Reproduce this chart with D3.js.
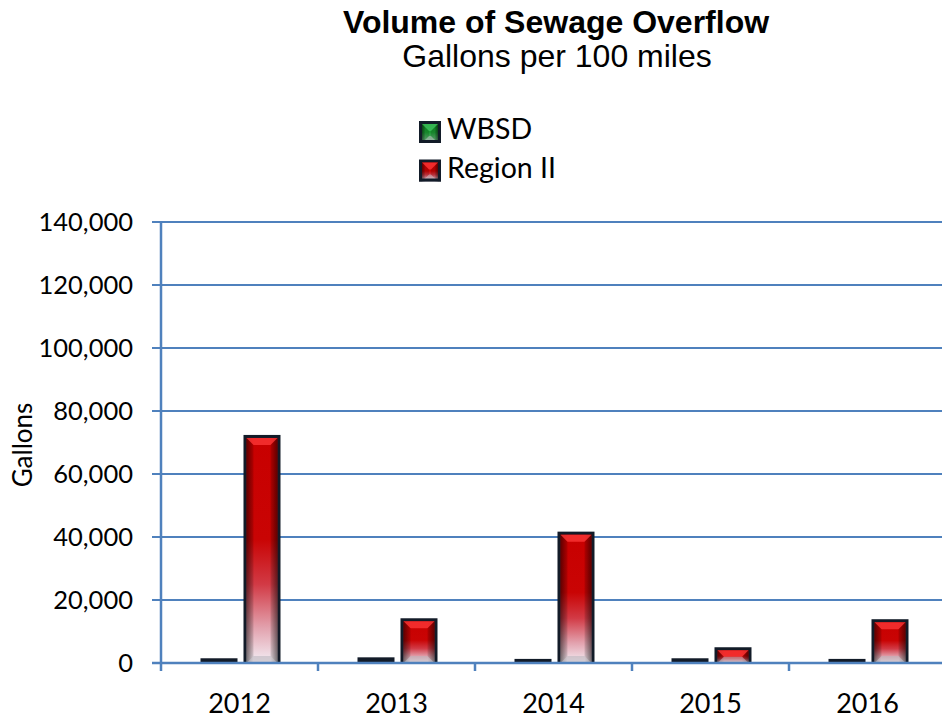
<!DOCTYPE html>
<html>
<head>
<meta charset="utf-8">
<script src="https://cdn.jsdelivr.net/npm/d3@7"></script>
<style>
  html, body { margin: 0; padding: 0; background: #fff; }
  svg { display: block; }
</style>
</head>
<body>
<svg id="chart" width="942" height="719"></svg>
<script>
// ---- Data ----
const categories = ["2012", "2013", "2014", "2015", "2016"];
const seriesNames = ["WBSD", "Region II"];
const wbsdValues = [1500, 1800, 1300, 1500, 1300];
const regionIIValues = [72400, 14200, 41700, 5000, 13900];
const yTickValues = [0, 20000, 40000, 60000, 80000, 100000, 120000, 140000];
const titleText = "Volume of Sewage Overflow";
const subtitleText = "Gallons per 100 miles";
const yAxisLabel = "Gallons";

const seriesValues = { "WBSD": wbsdValues, "Region II": regionIIValues };

// ---- Layout ----
const W = 942, H = 719;
const plotLeft = 161, plotTop = 222, plotBottom = 663, plotRight = 946;
const labelFont = "Lato, 'Open Sans', 'DejaVu Sans', sans-serif";
const gridColor = "#4f81bd";
const borderColor = "#121b28";

const svg = d3.select("#chart");
const defs = svg.append("defs");

function vGrad(id, stops) {
  const g = defs.append("linearGradient").attr("id", id)
    .attr("x1", 0).attr("y1", 0).attr("x2", 0).attr("y2", 1);
  stops.forEach(s => g.append("stop").attr("offset", s[0]).attr("stop-color", s[1]));
}
vGrad("redFill", [["0%", "#c80000"], ["45%", "#c90404"], ["65%", "#d23a45"], ["84%", "#e2a0ac"], ["100%", "#f3eef5"]]);
vGrad("greenFill", [["0%", "#0e8a22"], ["45%", "#1d9a35"], ["100%", "#78b88c"]]);
const hg = defs.append("linearGradient").attr("id", "edgeShade")
  .attr("x1", 0).attr("y1", 0).attr("x2", 1).attr("y2", 0);
[["0%", 0.45], ["22%", 0.0], ["78%", 0.0], ["100%", 0.45]].forEach(s =>
  hg.append("stop").attr("offset", s[0]).attr("stop-color", "#000").attr("stop-opacity", s[1]));

// ---- Scales ----
const y = d3.scaleLinear().domain([0, 140000]).range([plotBottom, plotTop]);
const x0 = d3.scaleBand().domain(categories).range([plotLeft, plotRight]).padding(0);
const bw = x0.bandwidth();
const x1 = d3.scaleBand().domain(seriesNames)
  .range([bw * 0.2516, bw * 0.7611]).paddingInner(0.1395).paddingOuter(0);

// ---- Gridlines ----
svg.append("g").selectAll("line").data(yTickValues.filter(v => v > 0)).join("line")
  .attr("x1", plotLeft - 9).attr("x2", W)
  .attr("y1", d => y(d)).attr("y2", d => y(d))
  .attr("stroke", gridColor).attr("stroke-width", 2);

// ---- Y axis tick labels ----
const fmt = d3.format(",");
svg.append("g").selectAll("text").data(yTickValues).join("text")
  .attr("x", 133).attr("y", d => y(d) + 9)
  .attr("text-anchor", "end")
  .attr("font-family", labelFont).attr("font-size", 25.5).attr("fill", "#000")
  .text(d => fmt(d));

// ---- Bevel bar drawing ----
function drawBar(g, x, yTop, w, h, fillId) {
  g.append("rect").attr("x", x).attr("y", yTop).attr("width", w).attr("height", h)
    .attr("fill", borderColor);
  const b = 3;
  const ix = x + b, iy = yTop + b, iw = w - 2 * b, ih = h - b;
  if (ih <= 6) return;
  g.append("rect").attr("x", ix).attr("y", iy).attr("width", iw).attr("height", ih)
    .attr("fill", `url(#${fillId})`);
  g.append("rect").attr("x", ix).attr("y", iy).attr("width", iw).attr("height", ih)
    .attr("fill", "url(#edgeShade)");
  const bv = Math.min(7, ih / 2, iw / 2);
  const x2 = ix + iw, y2 = iy + ih;
  g.append("polygon")
    .attr("points", [[ix, iy], [x2, iy], [x2 - bv, iy + bv], [ix + bv, iy + bv]].join(" "))
    .attr("fill", fillId === "redFill" ? "#ff3a3a" : "#40c060").attr("opacity", 0.75);
  g.append("polygon")
    .attr("points", [[ix, y2], [x2, y2], [x2 - bv, y2 - bv], [ix + bv, y2 - bv]].join(" "))
    .attr("fill", "#b8b4bc").attr("opacity", 0.55);
  g.append("polygon")
    .attr("points", [[ix, iy], [ix + bv, iy + bv], [ix + bv, y2 - bv], [ix, y2]].join(" "))
    .attr("fill", "#000").attr("opacity", 0.12);
  g.append("polygon")
    .attr("points", [[x2, iy], [x2 - bv, iy + bv], [x2 - bv, y2 - bv], [x2, y2]].join(" "))
    .attr("fill", "#000").attr("opacity", 0.12);
}

// ---- Bars ----
const barsG = svg.append("g");
categories.forEach((cat, i) => {
  seriesNames.forEach(s => {
    const v = seriesValues[s][i];
    const bx = x0(cat) + x1(s);
    const top = y(v);
    drawBar(barsG, bx, top, x1.bandwidth(), plotBottom - top, s === "WBSD" ? "greenFill" : "redFill");
  });
});

// ---- Axis lines ----
svg.append("line").attr("x1", plotLeft - 9).attr("x2", W)
  .attr("y1", plotBottom).attr("y2", plotBottom)
  .attr("stroke", gridColor).attr("stroke-width", 2.5);
svg.append("line").attr("x1", plotLeft).attr("x2", plotLeft)
  .attr("y1", plotTop - 1).attr("y2", plotBottom + 8)
  .attr("stroke", gridColor).attr("stroke-width", 2.5);
svg.append("g").selectAll("line").data(categories.slice(1)).join("line")
  .attr("x1", d => x0(d)).attr("x2", d => x0(d))
  .attr("y1", plotBottom).attr("y2", plotBottom + 8)
  .attr("stroke", gridColor).attr("stroke-width", 2.5);

// ---- X labels ----
svg.append("g").selectAll("text").data(categories).join("text")
  .attr("x", d => x0(d) + bw / 2).attr("y", 713)
  .attr("text-anchor", "middle")
  .attr("font-family", labelFont).attr("font-size", 27).attr("fill", "#000")
  .text(d => d);

// ---- Y axis label ----
svg.append("text")
  .attr("transform", "translate(32,445) rotate(-90)")
  .attr("text-anchor", "middle")
  .attr("font-family", labelFont).attr("font-size", 26).attr("fill", "#000")
  .text(yAxisLabel);

// ---- Title ----
svg.append("text").attr("x", 556).attr("y", 33).attr("text-anchor", "middle")
  .attr("font-family", "'Liberation Sans', Arial, sans-serif").attr("font-weight", "bold")
  .attr("font-size", 32).attr("fill", "#000").text(titleText);
svg.append("text").attr("x", 557).attr("y", 67).attr("text-anchor", "middle")
  .attr("font-family", "'Liberation Sans', Arial, sans-serif")
  .attr("font-size", 32).attr("fill", "#000").text(subtitleText);

// ---- Legend ----
const legend = svg.append("g");
seriesNames.forEach((s, i) => {
  const ly = 121 + i * 38.5;
  drawBar(legend, 419, ly, 22, 22, s === "WBSD" ? "greenFill" : "redFill");
  legend.append("rect").attr("x", 419).attr("y", ly + 19).attr("width", 22).attr("height", 3).attr("fill", borderColor);
  legend.append("text").attr("x", 447).attr("y", ly + 18)
    .attr("font-family", labelFont).attr("font-size", 28.5).attr("fill", "#000")
    .text(s);
});
</script>
</body>
</html>
